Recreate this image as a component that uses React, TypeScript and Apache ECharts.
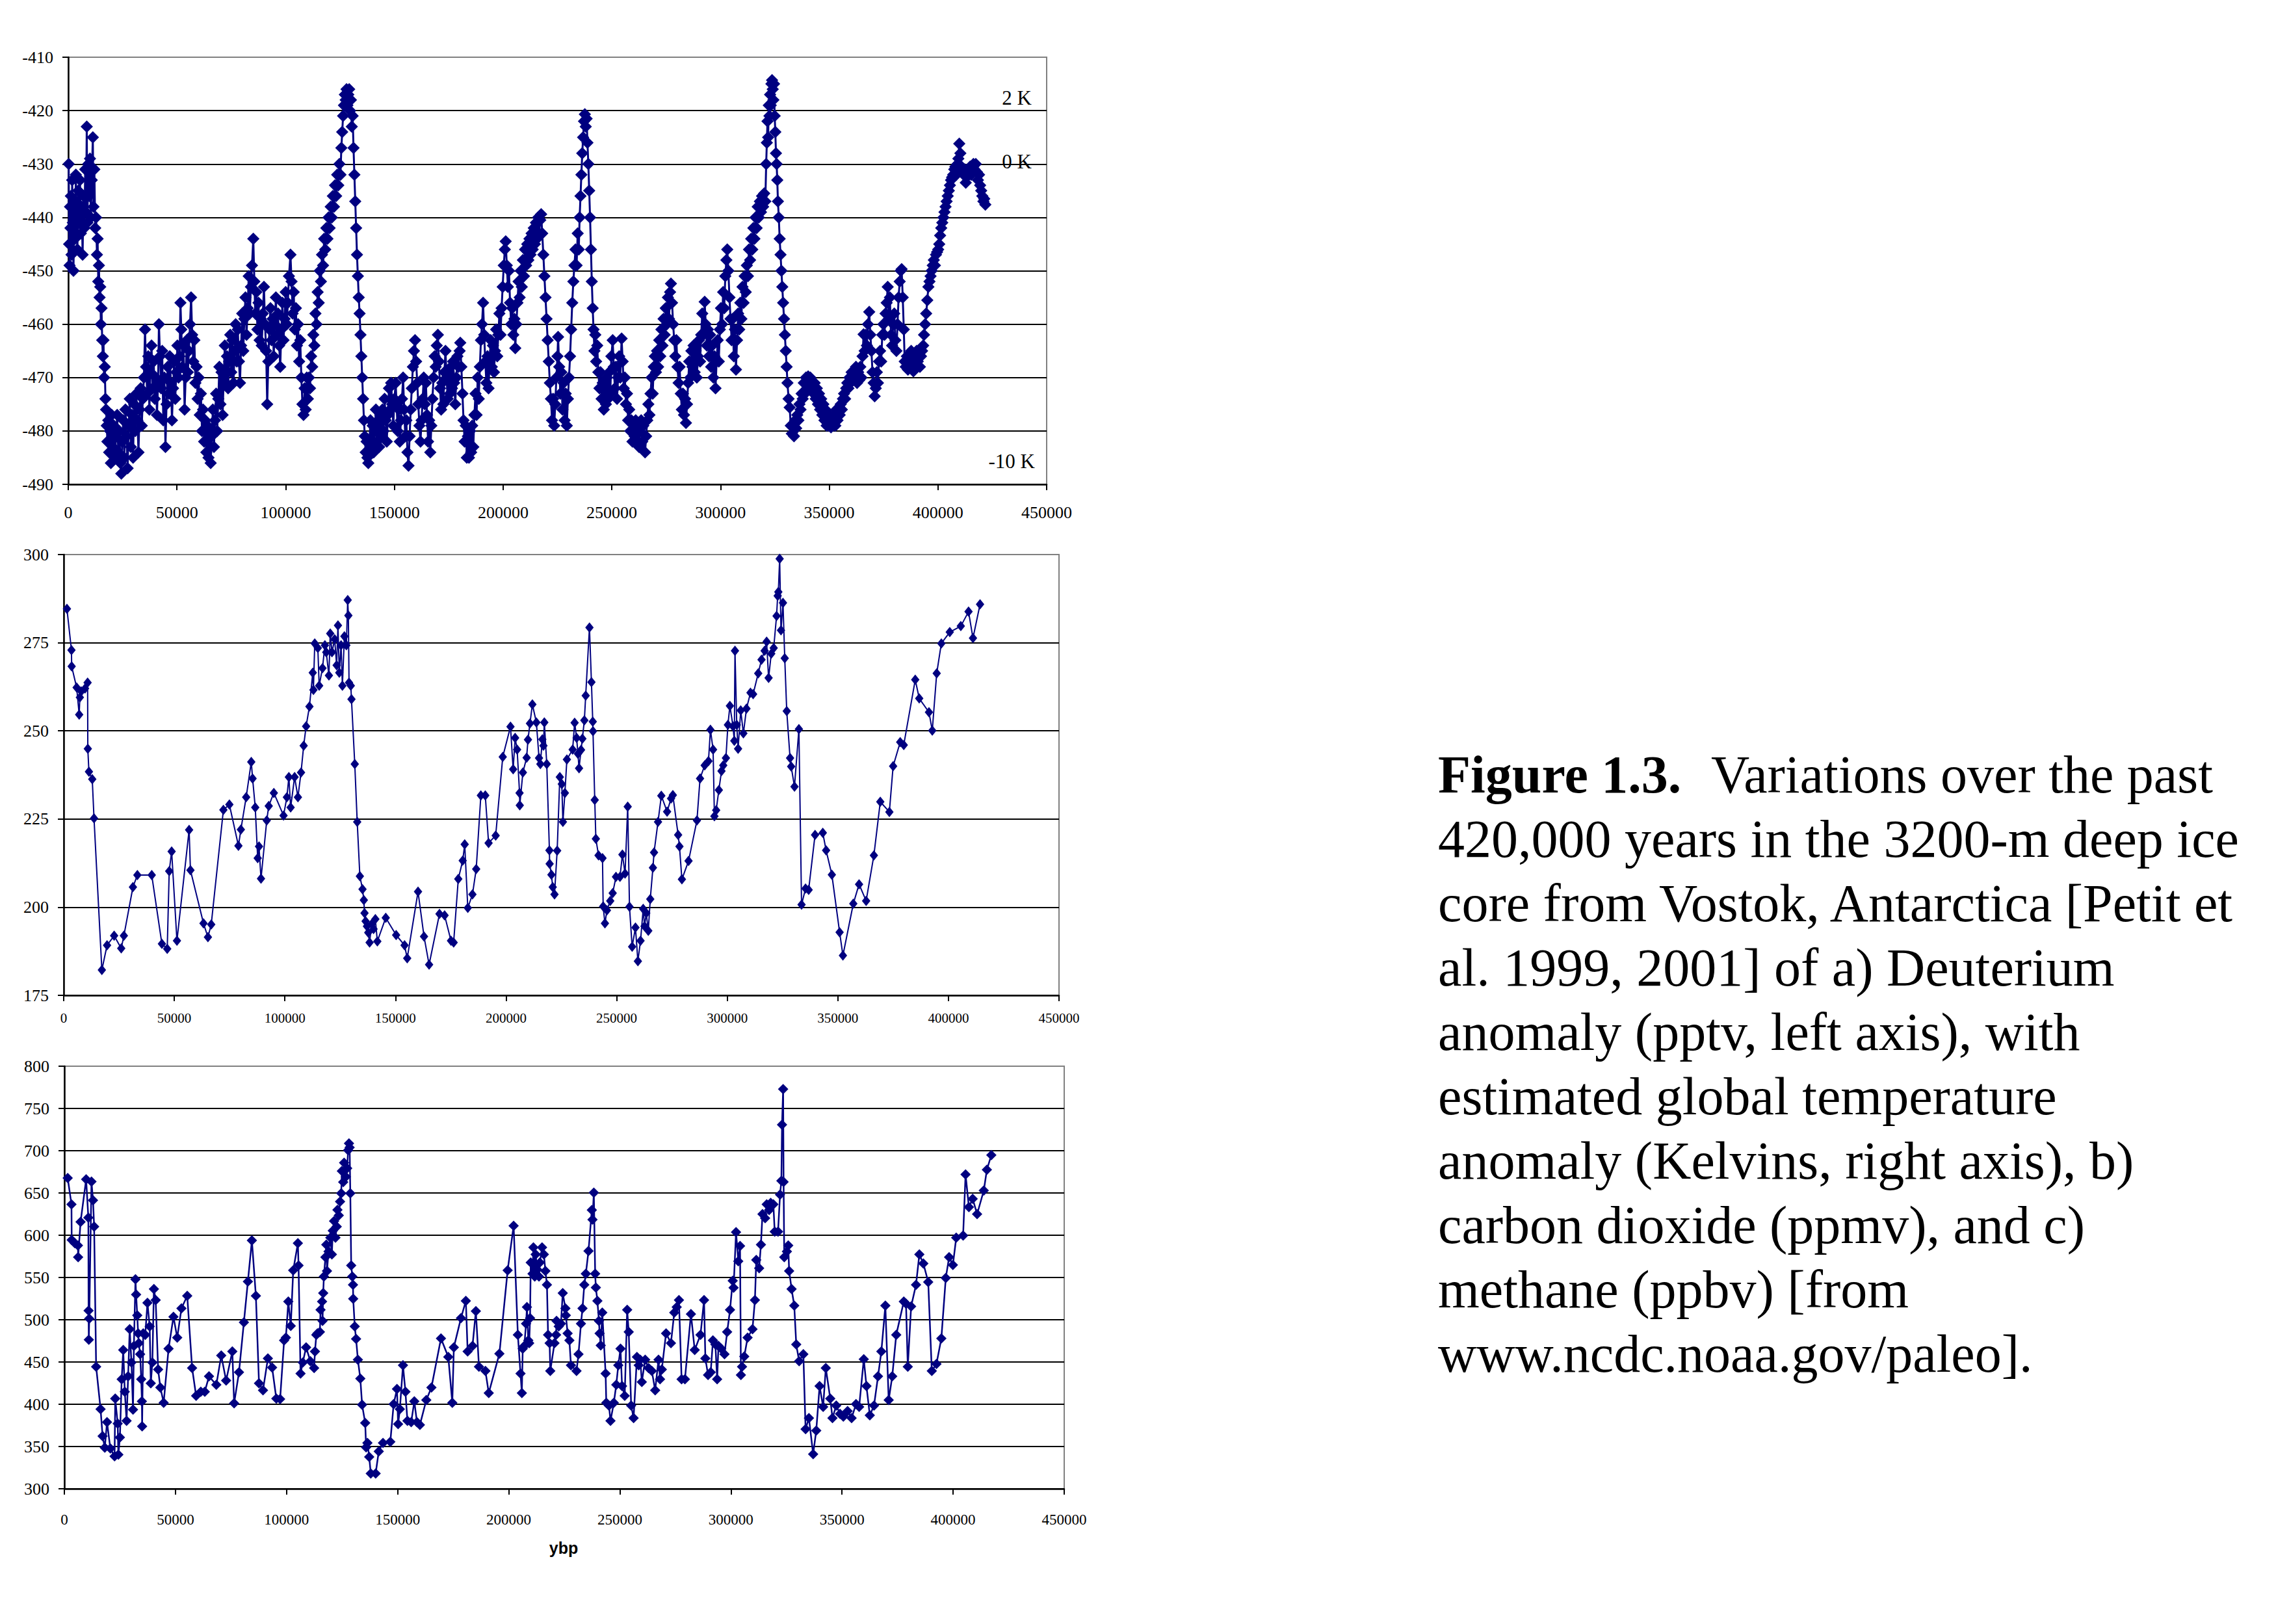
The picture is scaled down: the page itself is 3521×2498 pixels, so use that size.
import React, { useEffect, useRef } from "react";
import * as echarts from "echarts";

// a) Deuterium, [age in kyr BP, deltaD]
const deuteriumKyr: [number, number][] = [
[0.2,-430],[0.4,-445],[0.6,-449],[0.8,-438],[1.0,-442],[1.2,-436],[1.5,-447],[1.8,-433],[2.1,-441],[2.4,-450],[2.8,-437],[3.1,-444],[3.5,-432],[3.8,-440],[4.2,-446],[4.6,-435],[5.0,-441],[5.4,-433],[5.8,-443],[6.2,-438],[6.6,-447],[7.0,-436],[7.4,-442],[7.8,-431],[8.2,-439],[8.5,-423],[8.8,-441],[9.2,-430],[9.6,-436],[10.0,-429],[10.4,-440],[10.8,-433],[11.3,-425],[11.6,-438],[12.0,-431],[12.4,-442],
[12.8,-440],[13.2,-447],[13.5,-444],[13.8,-452],[14.1,-449],[14.4,-455],[14.7,-453],[15.0,-460],[15.3,-457],[15.6,-463],[15.9,-466],[16.2,-463],[16.5,-470],[16.8,-468],[17.1,-474],[17.4,-476],[17.7,-479],[18.0,-482],
[18.4,-478],[18.8,-484],[19.2,-480],[19.6,-486],[20.0,-477],[20.5,-483],[21.0,-479],[21.5,-485],[22.0,-481],[22.5,-477],[23.0,-484],[23.5,-480],[24.0,-486],[24.4,-488],[24.8,-482],[25.3,-478],[25.8,-485],[26.3,-476],[26.8,-481],[27.3,-487],[27.8,-479],[28.3,-474],[28.8,-483],[29.3,-477],[29.8,-485],[30.3,-475],[30.8,-480],[31.3,-473],[31.8,-478],[32.3,-484],[32.8,-476],[33.3,-472],[33.8,-479],[34.3,-474],[34.8,-470],
[35.3,-461],[35.8,-468],[36.3,-473],[36.8,-466],[37.3,-476],[37.8,-469],[38.3,-464],[38.8,-472],[39.3,-467],[39.8,-474],[40.3,-470],[40.8,-477],[41.3,-471],[41.7,-460],[42.2,-466],[42.7,-472],[43.2,-465],[43.7,-478],[44.2,-470],[44.7,-483],[45.2,-475],[45.7,-468],[46.2,-473],[46.7,-466],[47.2,-471],[47.7,-478],[48.2,-472],[48.7,-467],[49.2,-474],[49.7,-469],[50.2,-464],[50.7,-470],[51.2,-466],[51.6,-456],[52.0,-461],[52.5,-468],[53.0,-464],[53.5,-476],[54.0,-470],[54.5,-463],[55.0,-469],[55.5,-465],[56.0,-460],[56.5,-455],[57.0,-462],[57.5,-467],[58.0,-463],[58.5,-471],[59.0,-468],[59.5,-474],[60.0,-470],[60.5,-477],[61.0,-473],[61.5,-480],[62.0,-476],[62.5,-482],[63.0,-478],[63.5,-484],[64.0,-479],[64.5,-485],[65.0,-480],[65.5,-486],[66.0,-481],[66.5,-476],[67.0,-483],[67.5,-478],[68.0,-473],[68.5,-480],[69.0,-474],[69.5,-468],[70.0,-475],[70.5,-469],[71.0,-477],[71.5,-470],[72.0,-464],[72.5,-471],[73.0,-466],[73.5,-472],[74.0,-467],[74.5,-462],[75.0,-469],[75.5,-463],[76.0,-471],[76.5,-465],[77.0,-460],[77.5,-467],[78.0,-461],[78.5,-467],[79.0,-471],[79.5,-464],[80.0,-458],[80.5,-465],[81.0,-459],[81.5,-455],[82.0,-462],[82.5,-457],[83.0,-451],[83.5,-458],[84.0,-453],[84.5,-449],[85.1,-444],[85.6,-452],[86.0,-458],[86.5,-454],[87.0,-461],[87.5,-456],[88.0,-463],[88.5,-459],[89.0,-464],[89.5,-458],[90.0,-453],[90.5,-460],[91.0,-465],[91.5,-475],[92.0,-467],[92.5,-461],[93.0,-457],[93.5,-463],[94.0,-459],[94.5,-466],[95.0,-460],[95.5,-455],[96.0,-462],[96.5,-458],[97.0,-464],[97.5,-468],[98.0,-461],[98.5,-456],[99.0,-463],[99.5,-459],[100.0,-454],[100.5,-460],[101.0,-456],[101.5,-451],[102.2,-447],[102.7,-452],[103.2,-458],[103.7,-454],[104.2,-461],[104.7,-457],[105.2,-464],[105.7,-460],[106.2,-467],[106.7,-463],[107.2,-470],[107.7,-475],[108.2,-477],[108.7,-472],[109.2,-476],[109.7,-470],
[110.2,-474],[110.7,-470],[111.2,-472],[111.7,-466],[112.2,-468],[112.7,-462],[113.2,-464],[113.7,-458],[114.2,-460],[114.7,-454],[115.2,-456],[115.7,-450],[116.2,-452],[116.7,-447],[117.2,-449],[117.7,-444],[118.2,-446],[118.7,-442],[119.2,-444],[119.7,-440],[120.2,-442],[120.7,-438],[121.2,-440],[121.7,-436],[122.2,-438],[122.7,-434],[123.2,-436],[123.7,-432],[124.2,-434],[124.7,-430],[125.2,-432],[125.6,-427],[126.0,-424],[126.4,-421],[126.8,-419],[127.2,-417],[127.6,-418],[128.0,-416],[128.4,-419],[128.8,-417],[129.2,-416],[129.6,-420],[130.0,-418],[130.4,-423],[130.8,-421],[131.2,-427],[131.6,-432],[132.0,-437],[132.4,-442],[132.8,-447],[133.2,-451],[133.6,-455],[134.0,-458],[134.4,-462],[134.8,-466],[135.2,-470],[135.6,-474],[136.0,-478],[136.4,-481],[136.8,-484],[137.2,-482],[137.6,-485],[138.0,-486],
[138.5,-482],[139.0,-478],[139.5,-483],[140.0,-479],[140.5,-484],[141.0,-480],[141.5,-476],[142.0,-482],[142.5,-478],[143.0,-483],[143.5,-477],[144.0,-481],[144.5,-476],[145.0,-480],[145.5,-474],[146.0,-478],[146.5,-482],[147.0,-477],[147.5,-472],[148.0,-476],[148.5,-471],[149.0,-475],[149.5,-479],[150.0,-474],[150.6,-471],[151.0,-475],[151.5,-480],[152.0,-476],[152.5,-482],[153.0,-478],[153.5,-474],[154.0,-470],[154.5,-476],[155.0,-481],[155.5,-478],[156.0,-484],[156.5,-486.5],[157.0,-481],[157.5,-476],[158.0,-472],[158.5,-468],[159.0,-465],[159.5,-463],[160.0,-467],[160.5,-471],[161.0,-475],[161.5,-479],[162.0,-482],[162.5,-478],[163.0,-474],[163.5,-470],[164.0,-475],[164.5,-471],[165.0,-477],[165.5,-482],[166.0,-478],[166.5,-484],[167.0,-479],[167.5,-474],[168.0,-470],[168.5,-466],[169.0,-468],[169.5,-464],[170.0,-462],[170.5,-467],[171.0,-472],[171.5,-476],[172.0,-471],[172.5,-475],[173.0,-469],[173.5,-465],[174.0,-470],[174.5,-474],[175.0,-469],[175.5,-473],[176.0,-468],[176.5,-472],[177.0,-467],[177.5,-471],[178.0,-475],[178.5,-470],[179.0,-466],[179.5,-468],[180.0,-465],[180.3,-463.5],[180.8,-468],[181.3,-473],[181.8,-478],[182.3,-482],[182.8,-479],[183.3,-485],[183.8,-481],[184.3,-485],[184.8,-480],[185.3,-484],[185.8,-479],[186.3,-483],[186.8,-477],[187.3,-473],[187.8,-477],[188.3,-470],[188.8,-474],[189.3,-468],[189.8,-463],[190.3,-460],[190.8,-456],[191.3,-462],[191.8,-467],[192.3,-471],[192.8,-466],[193.3,-472],[193.8,-467],[194.3,-463],[194.8,-468],[195.3,-464],[195.8,-469],[196.3,-465],[196.8,-461],[197.3,-466],[197.8,-462],[198.3,-458],[198.8,-462],[199.3,-457],[199.8,-453],[200.3,-449],[200.8,-446],[201.2,-444.5],[201.7,-449],[202.2,-453],[202.7,-450],[203.2,-456],[203.7,-460],[204.2,-457],[204.7,-462],[205.2,-459],[205.6,-464.5],[206.1,-460],[206.6,-456],[207.1,-452],[207.6,-455],[208.1,-450],[208.6,-453],[209.1,-448],[209.6,-451],[210.1,-446],[210.6,-449],[211.1,-445],[211.6,-448],[212.1,-444],[212.6,-447],[213.1,-443],[213.6,-446],[214.1,-442],[214.6,-445],[215.1,-441],[215.6,-444],[216.1,-440],[216.6,-443],[217.1,-440.5],[217.5,-439.4],[218.0,-443],[218.5,-447],[219.0,-451],[219.5,-455],[220.0,-459],[220.5,-463],[221.0,-467],[221.5,-471],[222.0,-474],[222.5,-478],[223.0,-474],[223.5,-479],
[224.0,-475],[224.5,-470],[225.0,-466],[225.3,-462.4],[225.8,-468],[226.3,-473],[226.8,-469],[227.3,-476],[227.8,-471],[228.3,-478],[228.8,-473],[229.3,-479],[229.8,-474],[230.3,-470],[230.8,-466],[231.3,-461],[231.8,-456],[232.3,-452],[232.8,-449],[233.3,-446],[233.8,-449],[234.3,-443],[234.8,-446],[235.2,-440],[235.6,-436],[236.0,-432],[236.4,-428],[236.8,-425],[237.2,-422],[237.6,-420.7],[238.0,-423],[238.4,-421.5],[238.8,-426],[239.2,-430],[239.6,-435],[240.0,-440],[240.4,-446],[240.8,-452],[241.2,-457],
[241.6,-461],[242.0,-465],[242.4,-462],[242.8,-467],[243.3,-464],[243.8,-469],[244.3,-472],[244.8,-469],[245.3,-474],[245.8,-471],[246.3,-476],[246.8,-472],[247.3,-475],[247.8,-470],[248.3,-474],[248.8,-469],[249.3,-473],[249.8,-466],[250.4,-463],[250.9,-468],[251.4,-472],[251.9,-468],[252.4,-474],[252.9,-470],[253.4,-466],[253.9,-470],[254.5,-462.7],[255.0,-467],[255.5,-472],[256.0,-470],[256.5,-475],[257.0,-473],[257.5,-478],[258.0,-476],[258.5,-480],[259.0,-478],[259.5,-482],[260.0,-479],[260.5,-481],[261.0,-478],[261.5,-482],[262.0,-479],[262.5,-483],[263.0,-480],[263.5,-478],[264.0,-482],[264.5,-479],[265.3,-484],[265.8,-481],[266.3,-478],[266.8,-475],[267.3,-477],[267.8,-473],[268.3,-470],[268.8,-473],[269.3,-468],[269.8,-466],[270.3,-469],[270.8,-465],[271.3,-468],[271.8,-463],[272.3,-466],[272.8,-461],[273.3,-464],[273.8,-459],[274.3,-462],[274.8,-457],[275.3,-460],[275.8,-455],[276.3,-459],[276.8,-454],[277.2,-452.4],[277.7,-456],[278.2,-460],[278.7,-463],[279.2,-466],[279.7,-463],[280.2,-468],[280.7,-471],[281.2,-468],[281.7,-473],[282.2,-476],[282.7,-473],[283.2,-477],[283.7,-474],[284.1,-478.5],[284.6,-475],[285.1,-471],[285.6,-467],[286.1,-470],[286.6,-465],[287.1,-468],[287.6,-464],[288.1,-469],[288.6,-465],[289.1,-470],[289.6,-466],[290.1,-463],[290.6,-467],[291.1,-462],[291.6,-458],[292.1,-462],[292.7,-455.8],[293.2,-460],[293.7,-464],[294.2,-461],[294.7,-466],[295.2,-462],[295.7,-468],[296.2,-464],[296.7,-470],[297.2,-466],[297.7,-472],[298.2,-467],[298.7,-463],[299.2,-467],[299.7,-461],[300.2,-457],[300.7,-460],[301.2,-454],[301.7,-457],[302.2,-451],[302.7,-448],[303.1,-446],[303.6,-450],[304.1,-455],[304.6,-459],[305.1,-463],[305.6,-459],[306.1,-466],[306.6,-461],[307.1,-468.5],[307.6,-463],[308.1,-458],[308.6,-461],[309.1,-456],[309.6,-459],[310.1,-453],[310.6,-456],[311.1,-451],[311.6,-454],[312.1,-449],[312.6,-451],[313.1,-446],[313.6,-448],[314.1,-444],[314.6,-446],[315.1,-442],[315.6,-444],[316.1,-440],[316.6,-442],[317.1,-438],[317.6,-440],[318.1,-437],[318.6,-439],[319.1,-436],[319.6,-438],[320.1,-435.5],[320.6,-437],[321.0,-430],[321.3,-426],[321.6,-422],[321.9,-425],[322.2,-419],[322.5,-421],[322.8,-417],[323.1,-419],[323.4,-415],[323.7,-414.3],[324.0,-416],[324.3,-418],[324.6,-415],[324.9,-421],[325.2,-424],[325.5,-428],[325.8,-430],[326.1,-433],[326.4,-437],[326.8,-440],[327.2,-444],[327.6,-447],[328.0,-450],[328.4,-453],[328.8,-456],[329.2,-459],[329.6,-462],[330.0,-465],[330.4,-468],[330.8,-471],[331.3,-474],[331.8,-475.6],[332.3,-479],[332.8,-480.5],[333.3,-479],[333.8,-481],[334.3,-478],[334.8,-479.5],[335.3,-477],[335.8,-478],[336.3,-475],[336.8,-476],[337.3,-473],[337.8,-474],[338.3,-471],[338.8,-473],[339.3,-470],[339.8,-472],[340.3,-469.8],[340.8,-471],[341.3,-470],[341.8,-472],[342.3,-471],[342.8,-473],[343.3,-471],[343.8,-474],[344.3,-472],[344.8,-475],[345.3,-473],[345.8,-476],[346.3,-474],[346.8,-477],[347.3,-475],[347.8,-478],[348.3,-476],[348.8,-479],[349.3,-477],[349.8,-479],[350.3,-477],[350.8,-479.3],[351.3,-478],[351.8,-479],[352.3,-477],[352.8,-479],[353.3,-476],[353.8,-478],[354.3,-476],[354.8,-477],[355.3,-475],[355.8,-476],[356.3,-474],[356.8,-473],[357.3,-474],[357.8,-472],[358.3,-471],[358.8,-472],[359.3,-470],[359.8,-471],[360.3,-469],[360.8,-470],[361.3,-468.8],[361.8,-470],[362.3,-468],[362.8,-471],[363.3,-469],[363.8,-470.5],[364.3,-468],[364.8,-470],[365.3,-466],[365.8,-461.9],[366.3,-465],[366.8,-462],[367.3,-464],[367.8,-460],[368.4,-457.7],[368.9,-462],[369.4,-465],[369.9,-469],[370.4,-471],[370.9,-473.5],[371.4,-472],[371.9,-469],[372.4,-471],[372.9,-467],[373.4,-465],[373.9,-467],[374.4,-462],[374.9,-460],[375.4,-462],[375.9,-458],[376.4,-456],[376.9,-453],[377.4,-459],[377.9,-455],[378.4,-462],[378.9,-464],[379.4,-460],[379.9,-458],[380.4,-463],[380.9,-465],[381.4,-460],[381.9,-455],[382.4,-452],[382.9,-450],[383.3,-449.7],[383.8,-455],[384.3,-461],[384.7,-467],[385.2,-468],[385.7,-466],[386.2,-468.5],[386.7,-466],[387.2,-468],[387.7,-465],[388.2,-467],[388.7,-468.8],[389.2,-466],[389.7,-468],[390.2,-465],[390.7,-467],[391.2,-466],[391.7,-468],[392.2,-466],[392.7,-465],[393.2,-464],[393.6,-462],[394.1,-460],[394.6,-458],[395.1,-455.5],[395.6,-453],[396.1,-452],[396.6,-451],[397.1,-450],[397.6,-449],[398.1,-448],[398.6,-449],[399.1,-447],[399.6,-446.5],[400.1,-446],[400.6,-445],[401.0,-443.4],[401.5,-442],[402.0,-441],[402.5,-440],[403.0,-439],[403.5,-438],[404.0,-437],[404.5,-436],[405.0,-435],[405.5,-434],[406.0,-433],[406.5,-432.5],[407.0,-432],[407.5,-431],[408.0,-430.5],[408.5,-432],[409.0,-430],[409.4,-429],[409.8,-426.2],[410.3,-428],[410.8,-430.5],[411.3,-431],[411.8,-432],[412.3,-431],[412.8,-433.5],[413.3,-432],[413.8,-431],[414.3,-432],[414.8,-430.5],[415.3,-432],[415.8,-431],[416.3,-430],[416.8,-431],[417.4,-430],[417.9,-431.5],[418.4,-433],[418.9,-432],[419.4,-434],[419.9,-435],[420.4,-436],[420.9,-437],[421.3,-436.5],[421.8,-437.6]
];

// b) Carbon dioxide, [age in years BP, ppmv]
const co2: [number, number][] = [
[1460,284.6],[3500,272.9],[3600,268.3],[5850,262.3],[7000,254.6],[7300,259.5],[7900,261.2],[9650,262.0],[10800,263.7],[10900,244.9],[11400,238.4],[12900,236.3],[13700,225.2],[17250,182.2],[19600,189.2],[22800,191.9],[26000,188.3],[27200,191.9],[31300,205.7],[33300,209.1],[39800,209.1],[44400,189.6],[46800,188.2],[47700,210.2],[48800,215.8],[51200,190.5],[56700,221.9],[57300,210.5],[63200,195.4],[65200,191.5],[66700,195.1],[72200,227.6],[74900,229.1],[79000,217.4],[80100,222.0],[82500,231.2],[84800,241.2],[85400,236.5],[86600,228.3],[87700,213.9],[88300,217.2],[89200,208.1],[91800,224.6],[92700,228.7],[95000,232.4],[99400,226.0],[100900,231.2],[101800,236.9],[102600,228.3],[104400,236.9],[105900,231.2],[107300,238.2],[108500,245.8],[109600,251.3],[111100,256.9],[112600,266.5],[112900,261.6],[113500,274.8],[114900,273.5],[115500,262.8],[117000,267.8],[118100,274.3],[118700,272.3],[119900,265.7],[120500,277.6],[121300,272.3],[122500,276.0],[123400,268.6],[124000,279.9],[124600,266.5],[125400,274.3],[126000,262.8],[126900,276.8],[127800,274.3],[128400,287.1],[128700,282.7],[129000,263.7],[129800,262.8],[130100,259.0],[131600,240.6],[132700,224.2],[133900,208.8],[135100,205.1],[135700,202.0],[136000,198.3],[136500,196.0],[137100,194.6],[137700,192.8],[138300,190.0],[139200,195.2],[140100,193.8],[140900,196.6],[141800,190.3],[145600,197.0],[150300,192.1],[154100,189.2],[155300,185.5],[160200,204.4],[162900,191.7],[165200,183.7],[169900,198.1],[172200,197.7],[175100,190.5],[176300,190.0],[178400,208.0],[180400,213.2],[181300,217.8],[182700,199.8],[184800,203.6],[186500,210.8],[188600,231.7],[190600,231.7],[192100,218.2],[195300,220.3],[198500,242.6],[202000,251.2],[203200,239.1],[204100,248.0],[205000,244.7],[206100,232.4],[206200,228.9],[207600,238.2],[209300,242.4],[209900,247.5],[210800,252.1],[211900,257.5],[213700,252.4],[214900,242.3],[215500,240.6],[216400,247.6],[216900,245.8],[217300,252.4],[218400,240.6],[219600,216.1],[219700,212.3],[220500,209.2],[221100,205.7],[221900,203.6],[223100,216.0],[224300,236.9],[225200,234.9],[225700,224.2],[226600,232.4],[227500,241.9],[230100,244.7],[231000,252.3],[231900,248.0],[232500,243.5],[233000,239.4],[233900,244.6],[234500,247.8],[235400,253.0],[236000,260.0],[237700,279.3],[238600,263.8],[239200,252.6],[239300,249.9],[240100,230.4],[240600,219.4],[241800,214.7],[243600,213.9],[243900,200.2],[244700,195.4],[245600,199.1],[247100,201.8],[248200,204.0],[249700,208.6],[251500,208.6],[252600,214.9],[253800,209.5],[255000,228.5],[255800,200.1],[257000,188.8],[258500,194.2],[259600,184.7],[260800,190.5],[262000,199.5],[262600,194.6],[263400,198.3],[264300,193.3],[265200,202.3],[266400,211.2],[266900,215.5],[268700,224.2],[270200,231.6],[272800,227.1],[274600,230.8],[275400,231.8],[277800,220.5],[278400,217.2],[279500,207.9],[282500,213.1],[286300,224.6],[287700,236.5],[289800,240.2],[291500,241.4],[292400,250.3],[293600,244.7],[294200,225.8],[295000,227.5],[296200,233.2],[297400,238.6],[298200,240.2],[299400,242.3],[300300,251.7],[301200,257.1],[302600,251.3],[303200,247.2],[303500,272.7],[304300,251.7],[304900,244.9],[306100,255.8],[307300,249.3],[308700,256.3],[310500,260.8],[311700,260.4],[314000,266.3],[315500,270.2],[316900,272.7],[317800,275.3],[318700,265.0],[319900,271.9],[321000,273.5],[322300,282.6],[322800,288.3],[323100,289.4],[323700,298.8],[324300,278.5],[325200,286.3],[326000,270.6],[326900,255.6],[328400,242.3],[328900,239.9],[330400,234.2],[332400,250.5],[333600,200.7],[335400,205.3],[336800,204.9],[339700,220.5],[343200,221.1],[344700,216.1],[347300,209.2],[350800,192.9],[352300,186.3],[357000,201.0],[359600,206.5],[362800,201.8],[366300,214.7],[369200,229.9],[373300,227.0],[375000,240.0],[378200,246.8],[379800,246.0],[385000,264.5],[386800,259.2],[391200,255.3],[392700,250.1],[394700,266.3],[396800,274.8],[400600,278.0],[405600,279.7],[409100,283.8],[411100,276.3],[414300,285.9]
];

// c) Methane, [age in years BP, ppbv]
const ch4: [number, number][] = [
[1500,667.7],[3200,636.5],[3300,594.5],[4700,590.5],[6100,587.9],[6200,574.1],[7300,615.8],[9800,666.1],[10800,620.7],[10900,510.8],[11000,476.3],[11200,501.3],[12200,663.4],[12900,641.4],[13400,610.2],[14300,444.5],[16300,394.2],[17200,362.4],[18200,348.6],[19200,378.8],[20700,347.6],[22600,338.4],[22900,406.7],[24000,377.2],[24300,340.4],[25000,360.7],[25800,429.7],[26500,464.2],[27200,414.9],[28000,380.4],[28700,433.0],[29400,488.8],[30200,449.4],[30900,393.6],[31300,469.1],[32000,547.9],[32300,529.9],[32800,505.2],[33200,483.9],[33500,472.4],[34100,459.2],[34600,429.7],[34900,403.4],[35000,373.9],[35500,483.9],[36400,482.2],[37400,520.0],[38400,492.1],[38900,424.8],[39600,449.4],[40300,536.4],[41100,523.2],[42200,441.2],[43200,419.8],[44700,401.8],[46900,465.8],[49100,503.5],[50800,478.9],[52700,513.4],[55300,528.2],[57500,442.8],[59300,410.0],[61400,414.9],[63200,414.9],[65100,433.0],[68400,423.1],[70600,457.6],[72800,428.0],[75600,462.5],[76400,401.1],[78600,437.9],[80800,497.0],[82600,545.2],[84400,593.8],[86200,528.2],[87600,424.8],[89400,416.6],[91600,454.3],[93500,443.5],[95400,406.7],[97100,406.1],[98900,475.6],[99700,478.9],[100800,521.6],[101900,492.7],[103000,558.4],[105100,590.5],[105400,564.3],[106300,436.3],[107300,449.4],[108800,467.4],[110700,451.0],[112400,442.8],[112800,462.5],[113400,482.2],[113900,483.9],[115000,485.5],[115300,511.8],[116000,521.6],[116200,498.6],[116500,531.5],[116800,551.2],[117500,574.1],[117900,588.9],[118200,557.7],[118900,580.7],[119700,597.1],[120400,577.4],[120800,605.3],[121400,616.8],[122000,597.1],[122600,610.2],[122900,630.0],[123500,623.4],[124100,639.8],[124600,649.6],[124900,675.9],[125500,662.8],[125900,685.8],[126700,669.3],[127300,679.2],[127700,700.5],[128100,708.7],[128400,703.8],[128700,649.6],[129100,564.3],[129600,551.2],[129900,541.3],[130000,524.9],[130700,492.1],[131300,477.3],[132100,452.7],[133200,430.3],[134000,399.5],[135400,377.8],[135800,349.1],[136400,354.2],[137200,337.6],[137900,318.1],[140100,318.1],[141500,344.3],[143400,354.2],[146700,355.5],[148200,400.1],[149700,418.1],[150200,376.5],[151000,394.2],[152400,446.1],[153500,414.9],[154400,380.4],[156100,378.8],[157500,403.4],[158700,378.8],[160000,375.5],[162900,405.0],[165200,419.8],[169500,477.9],[172800,455.9],[174600,401.8],[175300,467.4],[178500,502.0],[180700,522.3],[181500,462.5],[183700,469.1],[185200,510.2],[186600,444.5],[189500,439.5],[191000,413.3],[195800,459.9],[199500,558.4],[202200,611.2],[204100,482.2],[205300,436.3],[205900,413.3],[206300,465.8],[207000,469.1],[207800,495.4],[208200,515.0],[208800,475.6],[209200,472.4],[209600,501.9],[209900,567.6],[210700,554.4],[211100,585.6],[211700,551.2],[212100,577.4],[212800,559.4],[213600,551.2],[214000,567.6],[215000,585.6],[215800,577.4],[216500,557.7],[217200,541.3],[217700,482.2],[218400,472.4],[218700,439.5],
[220600,472.4],[221300,482.2],[221500,498.6],[222500,492.1],[223500,495.4],[224300,531.5],[225500,513.4],[225700,505.2],[226500,483.9],[227300,475.6],[228000,446.1],[230500,439.5],[231400,459.2],[232500,495.4],[233200,513.4],[234000,541.3],[234700,554.4],[235900,581.4],[237400,629.9],[237700,618.5],[238300,650.3],[238900,554.4],[239200,538.0],[239900,522.3],[240600,498.6],[240900,483.9],[241400,469.7],[242100,508.5],[243600,436.3],[243900,401.8],[245100,398.5],[245800,380.4],[247300,401.8],[248400,423.1],[249300,446.1],[250300,465.8],[251000,421.5],[252200,410.0],[253300,511.8],[254000,485.5],[255100,398.5],[256200,383.7],[257700,455.9],[258500,446.1],[259200,452.7],[259900,426.4],[261400,452.7],[262900,442.8],[264400,439.5],[265900,416.6],[267400,452.7],[268100,429.7],[268900,441.2],[270800,483.9],[273000,472.4],[274500,508.5],[275600,515.0],[276600,523.2],[277800,429.7],[279300,429.7],[282000,506.8],[283700,464.2],[286300,482.2],[287900,523.2],[288500,454.3],[289700,434.6],[290900,437.9],[291900,475.6],[293000,470.7],[293800,429.7],[294400,469.1],[295600,465.8],[297100,459.2],[298300,485.5],[299600,511.8],[300800,546.2],[301200,537.9],[302300,603.7],[303300,569.2],[304100,587.3],[304500,434.6],[305000,444.5],[306000,456.6],[307500,478.9],[309700,488.8],[310800,523.2],[311400,570.8],[312700,561.0],[313500,588.9],[314200,625.0],[315400,620.1],[316100,636.5],[317200,629.9],[317900,638.2],[319100,636.5],[319700,604.3],[321200,604.3],[322100,648.0],[322700,664.4],[323000,730.7],[323500,772.8],[323700,663.0],[324000,574.1],[325200,580.7],[325800,587.9],[326200,557.7],[327300,536.4],[328500,516.7],[329400,470.7],[330700,451.0],[332600,459.2],[333600,370.6],[335100,383.7],[337000,341.0],[338400,368.9],[339900,421.5],[341500,396.9],[342700,442.8],[344700,406.7],[345700,383.7],[347400,398.5],[349100,388.6],[350600,385.3],[352500,391.9],[354300,383.7],[356300,400.1],[357700,396.9],[359800,453.3],[361000,421.5],[362500,387.0],[364400,398.5],[366200,433.0],[367700,462.5],[369500,516.7],[371000,405.0],[372600,433.0],[374400,482.2],[377800,521.6],[378800,519.0],[379600,444.5],[381100,515.7],[383300,541.3],[384800,577.4],[386600,566.6],[388800,544.6],[390400,439.5],[392500,447.7],[394700,477.9],[396700,549.5],[398200,574.1],[399900,564.9],[401400,597.1],[404500,599.7],[405600,672.0],[407100,633.2],[408800,643.1],[410800,625.0],[413800,652.9],[415200,677.5],[417200,694.9]
];

// Axis ranges
const xRange = { min: 0, max: 450000, interval: 50000 };
const yRanges = [
  { min: -490, max: -410, interval: 10 },
  { min: 175, max: 300, interval: 25 },
  { min: 300, max: 800, interval: 50 },
];

// Right-axis temperature labels of panel a)
const tempLabels = ["2 K", "0 K", "-10 K"];
const xAxisTitle = "ybp";

const captionBold = "Figure 1.3.";
const captionFirst = "Variations over the past";
const captionLines = [
  "420,000 years in the 3200-m deep ice",
  "core from Vostok, Antarctica [Petit et",
  "al. 1999, 2001] of a) Deuterium",
  "anomaly (pptv, left axis), with",
  "estimated global temperature",
  "anomaly (Kelvins, right axis), b)",
  "carbon dioxide (ppmv), and c)",
  "methane (ppbv) [from",
  "www.ncdc.noaa.gov/paleo].",
];

const NAVY = "#000080";
const SERIF = "'Liberation Serif', 'Times New Roman', serif";

export default function App() {
  const ref = useRef<HTMLDivElement>(null);

  useEffect(() => {
    if (!ref.current) return;
    const chart = echarts.init(ref.current, undefined, { renderer: "svg" });

    const grids = [
      { left: 105, top: 88, width: 1505, height: 657 },
      { left: 98, top: 853, width: 1531, height: 678 },
      { left: 99, top: 1640, width: 1538, height: 650 },
    ];
    const xLabelSize = [26, 21, 23];
    const xLabelMargin = [30, 24, 36];
    const yLabelSize = [26, 26, 26];

    const xAxes = grids.map((_, i) => ({
      type: "value",
      gridIndex: i,
      min: xRange.min,
      max: xRange.max,
      interval: xRange.interval,
      axisLine: { show: true, onZero: false, lineStyle: { color: "#000", width: 2.5 } },
      axisTick: { show: true, inside: false, length: 9, lineStyle: { color: "#000", width: 2 } },
      axisLabel: {
        formatter: (v: number) => String(v),
        fontFamily: SERIF,
        fontSize: xLabelSize[i],
        color: "#000",
        margin: xLabelMargin[i],
      },
      splitLine: { show: false },
    }));

    const yAxes = yRanges.map((r, i) => ({
      type: "value",
      gridIndex: i,
      min: r.min,
      max: r.max,
      interval: r.interval,
      axisLine: { show: true, onZero: false, lineStyle: { color: "#000", width: 2.5 } },
      axisTick: { show: true, inside: false, length: 9, lineStyle: { color: "#000", width: 2 } },
      axisLabel: {
        formatter: (v: number) => String(v),
        fontFamily: SERIF,
        fontSize: yLabelSize[i],
        color: "#000",
        margin: 23,
      },
      splitLine: { show: true, showMaxLine: false, lineStyle: { color: "#000", width: 2 } },
    }));

    const mkSeries = (data: number[][], i: number, size: number | number[], lw: number) => ({
      type: "line",
      xAxisIndex: i,
      yAxisIndex: i,
      data,
      symbol: "diamond",
      symbolSize: size,
      showSymbol: true,
      showAllSymbol: true,
      lineStyle: { color: NAVY, width: lw },
      itemStyle: { color: NAVY, borderWidth: 0 },
      emphasis: { disabled: true },
      animation: false,
    });

    const sortByX = (a: number[], b: number[]) => a[0] - b[0];
    const deut = deuteriumKyr.map(([k, v]) => [k * 1000, v]);
    const co2d = co2.map((p) => [p[0], p[1]]).sort(sortByX);
    const ch4d = ch4.map((p) => [p[0], p[1]]).sort(sortByX);

    const textStyle = (text: string, font: string, align = "left") => ({
      text,
      font,
      fill: "#000",
      textAlign: align,
      textVerticalAlign: "middle",
      align,
      verticalAlign: "middle",
    });

    const capFont = `82px ${SERIF}`;
    const capBoldFont = `bold 82px ${SERIF}`;
    const capX = 2212;
    const capY0 = 1191;
    const capStep = 99;

    const graphics: any[] = [
      { type: "text", x: 1587, y: 150, style: textStyle(tempLabels[0], `31px ${SERIF}`, "right") },
      { type: "text", x: 1587, y: 248, style: textStyle(tempLabels[1], `31px ${SERIF}`, "right") },
      { type: "text", x: 1592, y: 709, style: textStyle(tempLabels[2], `31px ${SERIF}`, "right") },
      { type: "text", x: 867, y: 2381, style: textStyle(xAxisTitle, `bold 25px 'Liberation Sans', Arial, sans-serif`, "center") },
      { type: "text", x: capX, y: capY0, style: textStyle(captionBold, capBoldFont) },
      { type: "text", x: 2632, y: capY0, style: textStyle(captionFirst, capFont) },
      ...captionLines.map((t, i) => ({
        type: "text",
        x: capX,
        y: capY0 + capStep * (i + 1),
        style: textStyle(t, capFont),
      })),
    ];

    chart.setOption({
      animation: false,
      backgroundColor: "#fff",
      grid: grids.map((g) => ({ ...g, show: true, borderColor: "#808080", borderWidth: 2, backgroundColor: "transparent" })),
      xAxis: xAxes,
      yAxis: yAxes,
      series: [
        mkSeries(deut, 0, 19, 3),
        mkSeries(co2d, 1, [13, 16], 2),
        mkSeries(ch4d, 2, 16, 2.5),
      ],
      graphic: graphics,
    } as any);

    return () => chart.dispose();
  }, []);

  return (
    <div
      ref={ref}
      style={{ position: "absolute", left: 0, top: 0, width: 3521, height: 2498, background: "#fff" }}
    />
  );
}
